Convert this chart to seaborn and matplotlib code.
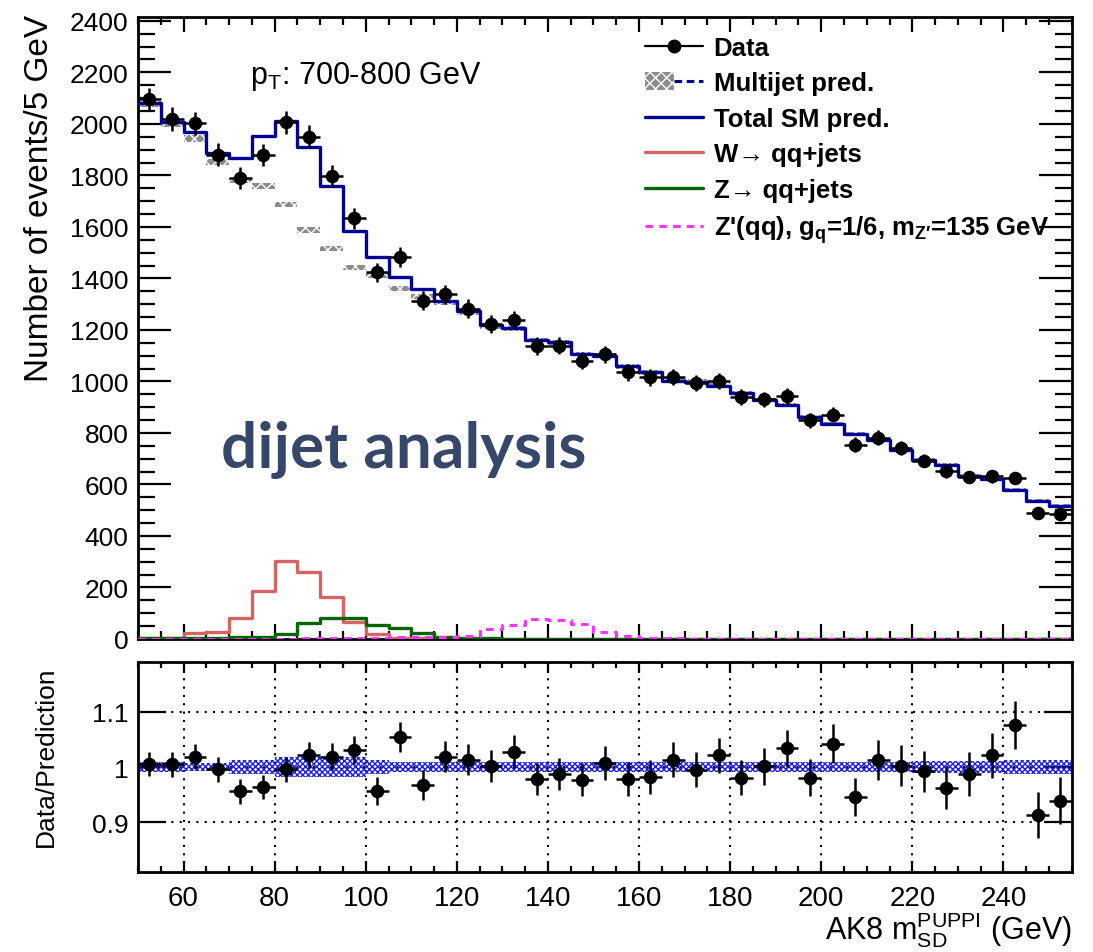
import numpy as np
import matplotlib
matplotlib.use("Agg")
import matplotlib.pyplot as plt
import seaborn as sns
from matplotlib.patches import Patch
from matplotlib.lines import Line2D
from matplotlib.legend_handler import HandlerTuple
from matplotlib.ticker import MultipleLocator

# ---------------- data ----------------
bin_edges = list(range(50, 260, 5))          # 50 ... 255 GeV, 41 bins of 5 GeV

data = [2095, 2019, 2003, 1881, 1789, 1880, 2006, 1951, 1797, 1634,
        1424, 1482, 1314, 1338, 1283, 1222, 1240, 1137, 1139, 1081,
        1105, 1035, 1016, 1017, 995, 1002, 940, 930, 942, 849,
        871, 755, 782, 740, 693, 651, 629, 631, 625, 489, 485]

total_sm = [2081, 2006, 1968, 1887, 1869, 1952, 2010, 1909, 1760, 1586,
            1485, 1407, 1357, 1314, 1275, 1219, 1206, 1162, 1152, 1107,
            1100, 1059, 1035, 1003, 999, 984, 956, 928, 910, 863,
            835, 796, 774, 734, 696, 676, 634, 621, 580, 535, 515]

w_jets = [2, 3, 22, 29, 82, 185, 304, 259, 164, 65,
          21, 4, 3, 2, 1, 1, 0, 0, 0, 0,
          0, 0, 0, 0, 0, 0, 0, 0, 0, 0,
          0, 0, 0, 0, 0, 0, 0, 0, 0, 0, 0]

z_jets = [3, 3, 3, 5, 7, 8, 19, 62, 80, 80,
          54, 41, 24, 6, 5, 3, 1, 1, 1, 1,
          0, 0, 0, 0, 0, 0, 0, 0, 0, 0,
          0, 0, 0, 0, 0, 0, 0, 0, 0, 0, 0]

zprime = [0, 0, 0, 0, 0, 0, 1, 2, 3, 4,
          5, 6, 7, 8, 10, 38, 54, 78, 75, 58,
          26, 13, 5, 2, 0, 0, 0, 0, 0, 0,
          0, 0, 0, 0, 0, 0, 0, 0, 0, 0, 0]

multijet_unc = [12, 12, 12, 11, 11, 11, 11, 11, 10, 10,
                10, 10, 10, 10, 10, 10, 10, 9, 9, 9,
                9, 9, 9, 9, 9, 9, 8, 8, 8, 8,
                8, 8, 8, 8, 8, 8, 8, 8, 8, 8, 8]

ratio = [1.005, 1.005, 1.019, 0.996, 0.956, 0.964, 0.996, 1.022, 1.019, 1.031,
         0.956, 1.054, 0.967, 1.019, 1.013, 1.002, 1.028, 0.978, 0.987, 0.977,
         1.007, 0.978, 0.982, 1.013, 0.995, 1.021, 0.981, 1.001, 1.034, 0.981,
         1.042, 0.945, 1.013, 1.002, 0.992, 0.962, 0.987, 1.021, 1.076, 0.913, 0.939]

ratio_band = [0.009, 0.009, 0.008, 0.008, 0.013, 0.013, 0.018, 0.018, 0.018, 0.018,
              0.012, 0.009, 0.009, 0.009, 0.009, 0.009, 0.009, 0.009, 0.009, 0.009,
              0.009, 0.009, 0.009, 0.009, 0.009, 0.009, 0.009, 0.009, 0.009, 0.009,
              0.009, 0.009, 0.009, 0.009, 0.010, 0.010, 0.010, 0.011, 0.012, 0.012, 0.012]

# ---------------- derived arrays ----------------
edges = np.array(bin_edges, dtype=float)
centers = 0.5 * (edges[:-1] + edges[1:])
data_a = np.array(data, dtype=float)
tot_a = np.array(total_sm, dtype=float)
w_a = np.array(w_jets, dtype=float)
z_a = np.array(z_jets, dtype=float)
zp_a = np.array(zprime, dtype=float)
mj_a = tot_a - w_a - z_a
mj_unc = np.array(multijet_unc, dtype=float)
ratio_a = np.array(ratio)
ratio_err = np.sqrt(data_a) / tot_a
band_a = np.array(ratio_band)


def ext(v):
    v = np.asarray(v, dtype=float)
    return np.append(v, v[-1])


# ---------------- style ----------------
sns.set_theme(style="ticks")
plt.rcParams['font.family'] = ['Liberation Sans', 'DejaVu Sans']
plt.rcParams['mathtext.fontset'] = 'custom'
plt.rcParams['mathtext.rm'] = 'Liberation Sans'
plt.rcParams['mathtext.it'] = 'Liberation Sans:italic'
plt.rcParams['mathtext.bf'] = 'Liberation Sans:bold'
plt.rcParams['axes.linewidth'] = 2.0
plt.rcParams['hatch.linewidth'] = 1.0
plt.rcParams['axes.edgecolor'] = 'black'
plt.rcParams['text.color'] = 'black'
plt.rcParams['axes.labelcolor'] = 'black'
plt.rcParams['xtick.color'] = 'black'
plt.rcParams['ytick.color'] = 'black'
plt.rcParams['xtick.labelcolor'] = 'black'
plt.rcParams['ytick.labelcolor'] = 'black'

W, H = 1093, 953
fig = plt.figure(figsize=(W / 100, H / 100), dpi=100)
ax = fig.add_axes([138 / W, 1 - 640 / H, (1071.7 - 138) / W, (640 - 18) / H])
rax = fig.add_axes([138 / W, 1 - 873 / H, (1071.7 - 138) / W, (873 - 663) / H])

C_TOT = '#000099'
C_W = '#d76464'
C_Z = '#006600'
C_ZP = '#ff33ff'
C_MJ_FACE = '#8c8c8c'

# ---------------- top panel ----------------
# multijet hatched uncertainty band (per bin)
ax.bar(centers, 2 * mj_unc, bottom=mj_a - mj_unc, width=5, align='center',
       facecolor=C_MJ_FACE, edgecolor='white', hatch='xxx', linewidth=0, zorder=2)

sns.lineplot(x=edges, y=ext(w_a), ax=ax, drawstyle='steps-post', color=C_W,
             linewidth=2.4, estimator=None, legend=False, zorder=3)
sns.lineplot(x=edges, y=ext(z_a), ax=ax, drawstyle='steps-post', color=C_Z,
             linewidth=2.4, estimator=None, legend=False, zorder=3.2)
sns.lineplot(x=edges, y=ext(tot_a), ax=ax, drawstyle='steps-post', color=C_TOT,
             linewidth=2.4, estimator=None, legend=False, zorder=4)
sns.lineplot(x=edges, y=ext(zp_a), ax=ax, drawstyle='steps-post', color=C_ZP,
             linewidth=2.2, linestyle=(0, (2.5, 2.0)), estimator=None, legend=False,
             zorder=4.5)

ax.errorbar(centers, data_a, xerr=2.5, yerr=np.sqrt(data_a), fmt='none',
            ecolor='black', elinewidth=1.8, capsize=0, zorder=5)
sns.scatterplot(x=centers, y=data_a, ax=ax, color='black', s=95, edgecolor='black',
                linewidth=0, zorder=6, legend=False)

ax.set_xlim(50, 255)
ax.set_ylim(0, 2415)
ax.yaxis.set_major_locator(MultipleLocator(200))
ax.yaxis.set_minor_locator(MultipleLocator(50))
ax.xaxis.set_major_locator(MultipleLocator(20))
ax.xaxis.set_minor_locator(MultipleLocator(5))
ax.tick_params(axis='both', which='both', direction='in', top=True, right=True,
               color='black', width=1.6)
ax.tick_params(axis='y', which='major', length=24, labelsize=19, pad=7)
ax.tick_params(axis='y', which='minor', length=12)
ax.tick_params(axis='x', which='major', length=11, labelbottom=False)
ax.tick_params(axis='x', which='minor', length=5.5)
ax.set_xlabel('')
ax.set_ylabel('')
for s in ax.spines.values():
    s.set_linewidth(2.0)
    s.set_color('black')

# legend
h_data = Line2D([], [], color='black', marker='o', markersize=9, linewidth=1.6)
h_mj = (Patch(facecolor=C_MJ_FACE, edgecolor='white', hatch='xxx', linewidth=0),
        Line2D([], [], color=C_TOT, linestyle=(0, (2.5, 1.5)), linewidth=2.2))
h_tot = Line2D([], [], color=C_TOT, linewidth=2.4)
h_w = Line2D([], [], color=C_W, linewidth=2.4)
h_z = Line2D([], [], color=C_Z, linewidth=2.4)
h_zp = Line2D([], [], color=C_ZP, linewidth=2.2, linestyle=(0, (2.5, 2.0)))
labels = ['Data', 'Multijet pred.', 'Total SM pred.', 'W\u2192 qq+jets', 'Z\u2192 qq+jets',
          r"Z'(qq), g$_{\mathbf{q}}$=1/6, m$_{\mathbf{Z\prime}}$=135 GeV"]
leg = ax.legend([h_data, h_mj, h_tot, h_w, h_z, h_zp], labels,
                handler_map={tuple: HandlerTuple(ndivide=None, pad=0)},
                loc='upper left', bbox_to_anchor=(0.543, 0.970), frameon=False,
                prop={'weight': 'bold', 'size': 18.5}, handlelength=2.25,
                handletextpad=0.42, labelspacing=0.45, borderpad=0, borderaxespad=0)

# texts
fig.text(250 / W, 1 - 84 / H, r"$\mathrm{p}_{\mathrm{T}}$: 700-800 GeV", fontsize=22,
         va='baseline', ha='left')
fig.text(221 / W, 1 - 468 / H, 'dijet analysis', fontsize=46, color='#37476a',
         family=['Lato', 'DejaVu Sans'], weight='bold', va='baseline', ha='left')
fig.text(40 / W, 1 - 15 / H, 'Number of events/5 GeV', rotation=90, fontsize=24,
         ha='center', va='top')

# ---------------- ratio panel ----------------
rax.fill_between(edges, ext(1 - band_a), ext(1 + band_a), step='post',
                 facecolor='none', edgecolor='#1a1aff', hatch='xxxxxx', linewidth=0, zorder=2)
rax.errorbar(centers, ratio_a, xerr=2.5, yerr=ratio_err, fmt='none', ecolor='black',
             elinewidth=1.8, capsize=0, zorder=5)
sns.scatterplot(x=centers, y=ratio_a, ax=rax, color='black', s=95, edgecolor='black',
                linewidth=0, zorder=6, legend=False)
rax.set_xlim(50, 255)
rax.set_ylim(0.81, 1.19)
rax.set_yticks([0.9, 1.0, 1.1])
rax.set_yticklabels(['0.9', '1', '1.1'])
rax.xaxis.set_major_locator(MultipleLocator(20))
rax.xaxis.set_minor_locator(MultipleLocator(5))
rax.set_axisbelow(True)
rax.grid(True, which='major', linestyle=(0, (1, 3)), color='black', linewidth=1.5)
rax.tick_params(axis='both', which='both', direction='in', top=True, right=True,
                color='black', width=1.6)
rax.tick_params(axis='y', which='major', length=20, labelsize=19, pad=7)
rax.tick_params(axis='x', which='major', length=8, labelsize=20, pad=9)
rax.tick_params(axis='x', which='minor', length=4)
rax.set_xlabel('')
rax.set_ylabel('')
for s in rax.spines.values():
    s.set_linewidth(2.0)
    s.set_color('black')

fig.text(46 / W, 1 - 757 / H, 'Data/Prediction', rotation=90, fontsize=19,
         ha='center', va='center')
fig.text(1072 / W, 1 - 940 / H, r"AK8 m$_{\mathrm{SD}}^{\mathrm{PUPPI}}$ (GeV)",
         fontsize=22, ha='right', va='baseline')

fig.savefig('out.png', dpi=100)
